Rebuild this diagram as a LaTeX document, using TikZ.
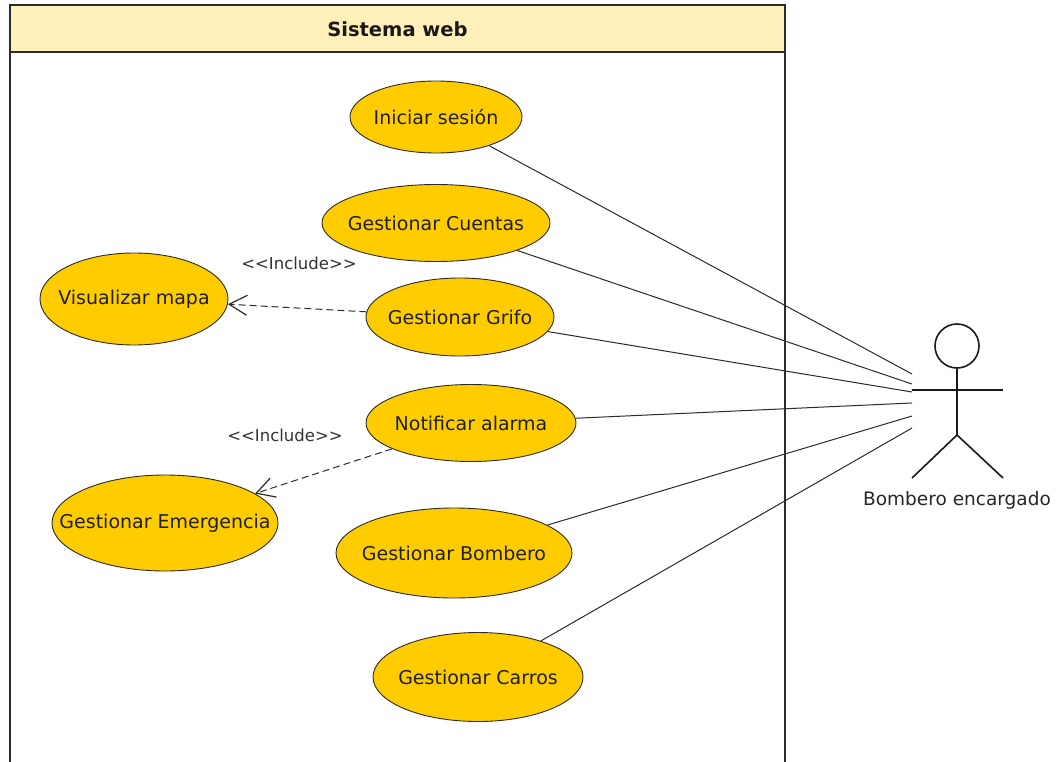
\documentclass[tikz,border=0pt]{standalone}
\usepackage{fontspec}
\setmainfont{DejaVu Sans}
\usetikzlibrary{shapes.geometric,arrows.meta}
\definecolor{ucfill}{HTML}{FFCC00}
\definecolor{hdrfill}{HTML}{FFF0BA}
\definecolor{edge}{HTML}{2B2B2B}
% label of fixed-size use case: zero-width box so the ellipse keeps its given size
\newcommand{\uclabel}[1]{\makebox[0pt][c]{#1}}
\tikzset{
  usecase/.style={ellipse, draw=edge, line width=0.9pt, fill=ucfill, inner sep=0pt,
    font=\fontsize{19}{21}\selectfont, text=black!88},
  assoc/.style={draw=edge, line width=1pt},
  incl/.style={draw=edge, line width=1pt, dash pattern=on 7pt off 4pt,
    -{Straight Barb[length=18pt,width=20pt,line width=1.2pt]}},
  stereo/.style={font=\fontsize{16.5}{18}\selectfont, text=black!80},
  stick/.style={draw=black!90, line width=1.6pt}
}
\begin{document}
\begin{tikzpicture}[x=1pt,y=-1pt]
\useasboundingbox (0,0) rectangle (1062,762);
% system boundary with its title bar
\fill[white] (10,5) rectangle (785,762);
\filldraw[fill=hdrfill, draw=edge, line width=1.3pt] (10,5) rectangle (785,52);
\draw[edge, line width=1.3pt] (10,52) -- (10,770) (785,52) -- (785,770);
\node[font=\bfseries\fontsize{19.5}{21}\selectfont, text=black!90] (title) at (397.5,29) {Sistema web};

% use cases
\node[usecase, minimum width=172pt, minimum height=72pt] (ini) at (436,117) {\uclabel{Iniciar sesión}};
\node[usecase, minimum width=228pt, minimum height=77pt] (cue) at (436,223) {\uclabel{Gestionar Cuentas}};
\node[usecase, minimum width=188pt, minimum height=92pt] (vis) at (134,299) {\uclabel{Visualizar mapa}};
\node[usecase, minimum width=188pt, minimum height=78pt] (gri) at (460,317) {\uclabel{Gestionar Grifo}};
\node[usecase, minimum width=210pt, minimum height=77pt] (not) at (471,423) {\uclabel{Notificar alarma}};
\node[usecase, minimum width=226pt, minimum height=96pt] (eme) at (165,523) {\uclabel{Gestionar Emergencia}};
\node[usecase, minimum width=236pt, minimum height=90pt] (bom) at (454,553) {\uclabel{Gestionar Bombero}};
\node[usecase, minimum width=210pt, minimum height=89pt] (car) at (478,677) {\uclabel{Gestionar Carros}};

% actor
\node[circle, stick, minimum size=44pt, inner sep=0pt] (head) at (957,346) {};
\coordinate (hip) at (957,435);
\coordinate (handl) at (912,390);
\coordinate (handr) at (1003,390);
\coordinate (footl) at (912,478);
\coordinate (footr) at (1003,478);
\draw[stick] (head.south) -- (hip);
\draw[stick] (handl) -- (handr);
\draw[stick] (footl) -- (hip) -- (footr);
\node[font=\fontsize{18.5}{20}\selectfont, text=black!85] (actor) at (957,500) {Bombero encargado};

% association end points on the actor
\coordinate (a1) at (912,374);
\coordinate (a2) at (912,384);
\coordinate (a3) at (912,392);
\coordinate (a4) at (912,403);
\coordinate (a5) at (912,416);
\coordinate (a6) at (912,428);
\draw[assoc] (ini) -- (a1);
\draw[assoc] (cue) -- (a2);
\draw[assoc] (gri) -- (a3);
\draw[assoc] (not) -- (a4);
\draw[assoc] (bom) -- (a5);
\draw[assoc] (car) -- (a6);

% include relations
\draw[incl] (gri) -- (vis);
\draw[incl] (not) -- (eme);
\node[stereo] (inc1) at (299,263) {<{}<Include>{}>};
\node[stereo] (inc2) at (285,435) {<{}<Include>{}>};
\end{tikzpicture}
\end{document}
